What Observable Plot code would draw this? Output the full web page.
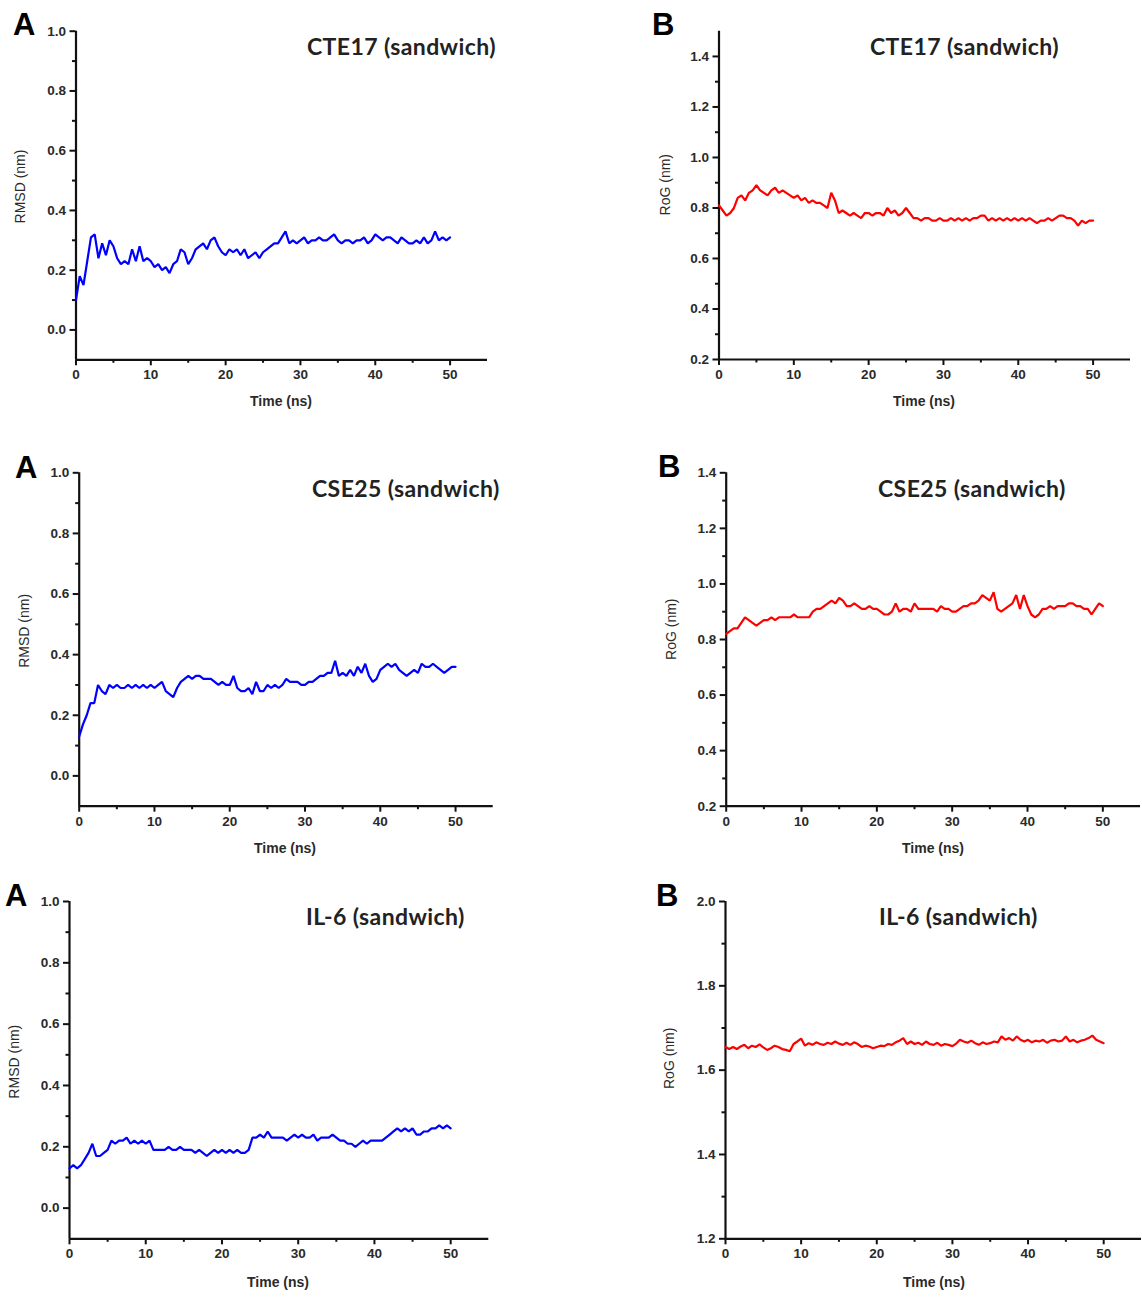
<!DOCTYPE html>
<html>
<head>
<meta charset="utf-8">
<script src="https://cdn.jsdelivr.net/npm/d3@7"></script>
<script src="https://cdn.jsdelivr.net/npm/@observablehq/plot@0.6"></script>
<style>
  html, body { margin: 0; padding: 0; background: #fff; }
  #root { position: relative; width: 1142px; height: 1297px; overflow: hidden; }
  #root > svg.plot { position: absolute; }
  #overlay { position: absolute; left: 0; top: 0; pointer-events: none; }
</style>
</head>
<body>
<div id="root"></div>
<script>
// ---- data ----
const time = [0,0.5,1,1.5,2,2.5,3,3.5,4,4.5,5,5.5,6,6.5,7,7.5,8,8.5,9,9.5,
  10,10.5,11,11.5,12,12.5,13,13.5,14,14.5,15,15.5,16,16.5,17,17.5,18,18.5,19,19.5,
  20,20.5,21,21.5,22,22.5,23,23.5,24,24.5,25,25.5,26,26.5,27,27.5,28,28.5,29,29.5,
  30,30.5,31,31.5,32,32.5,33,33.5,34,34.5,35,35.5,36,36.5,37,37.5,38,38.5,39,39.5,
  40,40.5,41,41.5,42,42.5,43,43.5,44,44.5,45,45.5,46,46.5,47,47.5,48,48.5,49,49.5,50];

const rmsdCTE17 = [0.10,0.18,0.15,0.23,0.31,0.32,0.24,0.29,0.25,0.30,
  0.28,0.24,0.22,0.23,0.22,0.27,0.23,0.28,0.23,0.24,
  0.23,0.21,0.22,0.20,0.21,0.19,0.22,0.23,0.27,0.26,
  0.22,0.24,0.27,0.28,0.29,0.27,0.30,0.31,0.28,0.26,
  0.25,0.27,0.26,0.27,0.25,0.27,0.24,0.25,0.26,0.24,
  0.26,0.27,0.28,0.29,0.29,0.31,0.33,0.29,0.30,0.29,
  0.30,0.31,0.29,0.30,0.30,0.31,0.30,0.30,0.31,0.32,
  0.30,0.29,0.30,0.30,0.29,0.30,0.30,0.31,0.29,0.30,
  0.32,0.31,0.30,0.31,0.31,0.30,0.29,0.31,0.30,0.29,
  0.29,0.30,0.29,0.31,0.29,0.30,0.33,0.30,0.31,0.30,0.31];

const rogCTE17 = [0.81,0.79,0.77,0.78,0.80,0.84,0.85,0.83,0.86,0.87,
  0.89,0.87,0.86,0.85,0.87,0.88,0.86,0.87,0.86,0.85,
  0.84,0.85,0.83,0.84,0.82,0.83,0.82,0.82,0.81,0.80,
  0.86,0.83,0.78,0.79,0.78,0.77,0.78,0.77,0.76,0.78,
  0.78,0.77,0.78,0.78,0.77,0.80,0.78,0.79,0.77,0.78,
  0.80,0.78,0.76,0.76,0.75,0.76,0.76,0.75,0.75,0.76,
  0.75,0.75,0.76,0.75,0.76,0.75,0.76,0.75,0.76,0.76,
  0.77,0.77,0.75,0.76,0.75,0.76,0.75,0.76,0.75,0.76,
  0.75,0.76,0.75,0.76,0.75,0.74,0.75,0.75,0.76,0.75,
  0.76,0.77,0.77,0.76,0.76,0.75,0.73,0.75,0.74,0.75,0.75];

const rmsdCSE25 = [0.13,0.17,0.20,0.24,0.24,0.30,0.28,0.27,0.30,0.29,
  0.30,0.29,0.29,0.30,0.29,0.30,0.29,0.30,0.29,0.30,
  0.29,0.30,0.31,0.28,0.27,0.26,0.29,0.31,0.32,0.33,
  0.32,0.33,0.33,0.32,0.32,0.32,0.31,0.30,0.31,0.30,
  0.30,0.33,0.29,0.28,0.28,0.29,0.27,0.31,0.28,0.28,
  0.30,0.29,0.30,0.29,0.30,0.32,0.31,0.31,0.31,0.30,
  0.30,0.31,0.31,0.32,0.33,0.33,0.34,0.34,0.38,0.33,
  0.34,0.33,0.35,0.33,0.36,0.34,0.37,0.33,0.31,0.32,
  0.35,0.36,0.37,0.36,0.37,0.35,0.34,0.33,0.34,0.35,
  0.34,0.37,0.36,0.36,0.37,0.36,0.35,0.34,0.35,0.36,0.36];

const rogCSE25 = [0.82,0.83,0.84,0.84,0.86,0.88,0.87,0.86,0.85,0.86,
  0.87,0.87,0.88,0.87,0.88,0.88,0.88,0.88,0.89,0.88,
  0.88,0.88,0.88,0.90,0.91,0.91,0.92,0.93,0.94,0.93,
  0.95,0.94,0.92,0.92,0.93,0.92,0.91,0.91,0.92,0.91,
  0.91,0.90,0.89,0.89,0.90,0.93,0.90,0.91,0.91,0.90,
  0.93,0.91,0.91,0.91,0.91,0.91,0.90,0.92,0.91,0.91,
  0.90,0.90,0.91,0.92,0.92,0.93,0.93,0.94,0.96,0.95,
  0.94,0.97,0.91,0.90,0.91,0.92,0.93,0.96,0.91,0.96,
  0.92,0.89,0.88,0.89,0.91,0.91,0.92,0.91,0.92,0.92,
  0.92,0.93,0.93,0.92,0.92,0.91,0.91,0.89,0.91,0.93,0.92];

const rmsdIL6 = [0.13,0.14,0.13,0.14,0.16,0.18,0.21,0.17,0.17,0.18,
  0.19,0.22,0.21,0.22,0.22,0.23,0.21,0.22,0.21,0.22,
  0.21,0.22,0.19,0.19,0.19,0.19,0.20,0.19,0.19,0.20,
  0.19,0.19,0.19,0.18,0.19,0.18,0.17,0.18,0.19,0.18,
  0.19,0.18,0.19,0.18,0.19,0.18,0.18,0.19,0.23,0.23,
  0.24,0.23,0.25,0.23,0.23,0.23,0.23,0.22,0.23,0.24,
  0.23,0.24,0.23,0.23,0.24,0.22,0.23,0.23,0.23,0.24,
  0.23,0.22,0.22,0.21,0.21,0.20,0.21,0.22,0.21,0.22,
  0.22,0.22,0.22,0.23,0.24,0.25,0.26,0.25,0.26,0.25,
  0.26,0.24,0.24,0.25,0.25,0.26,0.26,0.27,0.26,0.27,0.26];

const rogIL6 = [1.655,1.650,1.655,1.650,1.656,1.660,1.652,1.658,1.655,1.661,
  1.654,1.648,1.652,1.658,1.655,1.650,1.648,1.645,1.662,1.668,
  1.675,1.658,1.664,1.660,1.666,1.662,1.660,1.665,1.662,1.668,
  1.663,1.660,1.665,1.660,1.666,1.662,1.655,1.658,1.656,1.652,
  1.655,1.658,1.657,1.662,1.660,1.666,1.670,1.676,1.662,1.668,
  1.662,1.665,1.660,1.668,1.662,1.660,1.665,1.658,1.662,1.660,
  1.657,1.663,1.672,1.668,1.665,1.670,1.664,1.660,1.666,1.662,
  1.664,1.668,1.666,1.680,1.672,1.676,1.670,1.680,1.672,1.668,
  1.672,1.666,1.670,1.668,1.672,1.665,1.670,1.672,1.668,1.670,
  1.680,1.668,1.672,1.666,1.670,1.672,1.676,1.682,1.672,1.668,1.664];

const xTicks = [0,10,20,30,40,50];
const xMinorTicks = [5,15,25,35,45];
const rmsdTicks = [0,0.2,0.4,0.6,0.8,1.0];
const rmsdMinorTicks = [0.1,0.3,0.5,0.7,0.9];
const rogTicksA = [0.2,0.4,0.6,0.8,1.0,1.2,1.4];
const rogMinorTicksA = [0.3,0.5,0.7,0.9,1.1,1.3];
const rogTicksC = [1.2,1.4,1.6,1.8,2.0];
const rogMinorTicksC = [1.3,1.5,1.7,1.9];

const titles = ["CTE17 (sandwich)", "CTE17 (sandwich)", "CSE25 (sandwich)", "CSE25 (sandwich)", "IL-6 (sandwich)", "IL-6 (sandwich)"];
const letters = ["A", "B", "A", "B", "A", "B"];
const yLabels = ["RMSD (nm)", "RoG (nm)", "RMSD (nm)", "RoG (nm)", "RMSD (nm)", "RoG (nm)"];
const xLabel = "Time (ns)";

// ---- layout ----
const panels = [
  {values: rmsdCTE17, color: "#0000ff", yDomain: [-0.1, 1.0], yTicks: rmsdTicks, yMinor: rmsdMinorTicks,
   left: 0, top: 0, w: 500, h: 420, ml: 75.5, mr: 13, mt: 30.7, mb: 60.7,
   title: [307, 55], letter: [13, 35], ylab: [25, 186.5], xlab: [281, 406]},
  {values: rogCTE17, color: "#ff0000", yDomain: [0.2, 1.5], yTicks: rogTicksA, yMinor: rogMinorTicksA,
   left: 640, top: 0, w: 502, h: 420, ml: 78.5, mr: 12, mt: 30.7, mb: 61,
   title: [870, 55], letter: [652, 35], ylab: [670, 184.7], xlab: [924, 406]},
  {values: rmsdCSE25, color: "#0000ff", yDomain: [-0.1, 1.0], yTicks: rmsdTicks, yMinor: rmsdMinorTicks,
   left: 0, top: 440, w: 500, h: 420, ml: 78.7, mr: 7.3, mt: 32.3, mb: 54.3,
   title: [312, 496.7], letter: [15, 478], ylab: [29, 630.8], xlab: [285, 853]},
  {values: rogCSE25, color: "#ff0000", yDomain: [0.2, 1.4], yTicks: rogTicksA, yMinor: rogMinorTicksA,
   left: 640, top: 440, w: 502, h: 420, ml: 85.7, mr: 2, mt: 32.3, mb: 54.3,
   title: [878, 496.7], letter: [658, 477], ylab: [676, 629.2], xlab: [933, 853]},
  {values: rmsdIL6, color: "#0000ff", yDomain: [-0.1, 1.0], yTicks: rmsdTicks, yMinor: rmsdMinorTicks,
   left: 0, top: 870, w: 500, h: 427, ml: 69, mr: 11.7, mt: 31, mb: 58.7,
   title: [306, 925], letter: [5, 906], ylab: [18.5, 1061.7], xlab: [278, 1287]},
  {values: rogIL6, color: "#ff0000", yDomain: [1.2, 2.0], yTicks: rogTicksC, yMinor: rogMinorTicksC,
   left: 640, top: 870, w: 502, h: 427, ml: 85, mr: 1, mt: 31, mb: 58.7,
   title: [879, 925], letter: [656, 906], ylab: [673.5, 1058.3], xlab: [934, 1287]}
];

const root = document.getElementById("root");
const axisColor = "#111";
const tickText = {fontFamily: "'Liberation Sans', Arial, sans-serif", fontSize: 13.5, fontWeight: "bold", fill: "#2a2a2a"};

panels.forEach((p, i) => {
  const data = time.map((t, k) => ({t, v: p.values[k]}));
  const chart = Plot.plot({
    width: p.w, height: p.h,
    marginLeft: p.ml, marginRight: p.mr, marginTop: p.mt, marginBottom: p.mb,
    x: {domain: [0, 55]},
    y: {domain: p.yDomain},
    style: {background: "transparent", overflow: "visible", fontFamily: "'Liberation Sans', Arial, sans-serif"},
    marks: [
      Plot.axisX({ticks: xTicks, tickSize: 6, tickPadding: 4, tickFormat: "d", label: null, strokeWidth: 2, stroke: axisColor, ...tickText}),
      Plot.axisX({ticks: xMinorTicks, tickSize: 3.5, fill: "none", label: null, strokeWidth: 2, stroke: axisColor}),
      Plot.axisY({ticks: p.yTicks, tickSize: 6, tickPadding: 4, tickFormat: d3.format(".1f"), label: null, strokeWidth: 2, stroke: axisColor, ...tickText}),
      Plot.axisY({ticks: p.yMinor, tickSize: 3.5, fill: "none", label: null, strokeWidth: 2, stroke: axisColor}),
      Plot.ruleX([0], {stroke: axisColor, strokeWidth: 2.2}),
      Plot.ruleY([p.yDomain[0]], {stroke: axisColor, strokeWidth: 2.2}),
      Plot.line(data, {x: "t", y: "v", stroke: p.color, strokeWidth: 2.2, strokeLinejoin: "miter"})
    ]
  });
  chart.classList.add("plot");
  chart.style.left = p.left + "px";
  chart.style.top = p.top + "px";
  root.appendChild(chart);
});

// ---- overlay text ----
const overlay = d3.select(root).append("svg")
  .attr("id", "overlay").attr("width", 1142).attr("height", 1297);

panels.forEach((p, i) => {
  overlay.append("text")
    .attr("x", p.title[0]).attr("y", p.title[1])
    .attr("font-family", "Lato, 'Open Sans', sans-serif").attr("font-weight", "bold")
    .attr("font-size", 23).attr("letter-spacing", 0.4).attr("fill", "#222")
    .text(titles[i]);
  overlay.append("text")
    .attr("x", p.letter[0]).attr("y", p.letter[1])
    .attr("font-family", "'Liberation Sans', Arial, sans-serif").attr("font-weight", "bold")
    .attr("font-size", 31).attr("fill", "#000")
    .text(letters[i]);
  overlay.append("text")
    .attr("transform", `translate(${p.ylab[0]},${p.ylab[1]}) rotate(-90)`)
    .attr("text-anchor", "middle")
    .attr("font-family", "'Liberation Sans', Arial, sans-serif")
    .attr("font-size", 14).attr("fill", "#2a2a2a")
    .text(yLabels[i]);
  overlay.append("text")
    .attr("x", p.xlab[0]).attr("y", p.xlab[1])
    .attr("text-anchor", "middle")
    .attr("font-family", "'Liberation Sans', Arial, sans-serif").attr("font-weight", "bold")
    .attr("font-size", 14).attr("fill", "#2a2a2a")
    .text(xLabel);
});
</script>
</body>
</html>
